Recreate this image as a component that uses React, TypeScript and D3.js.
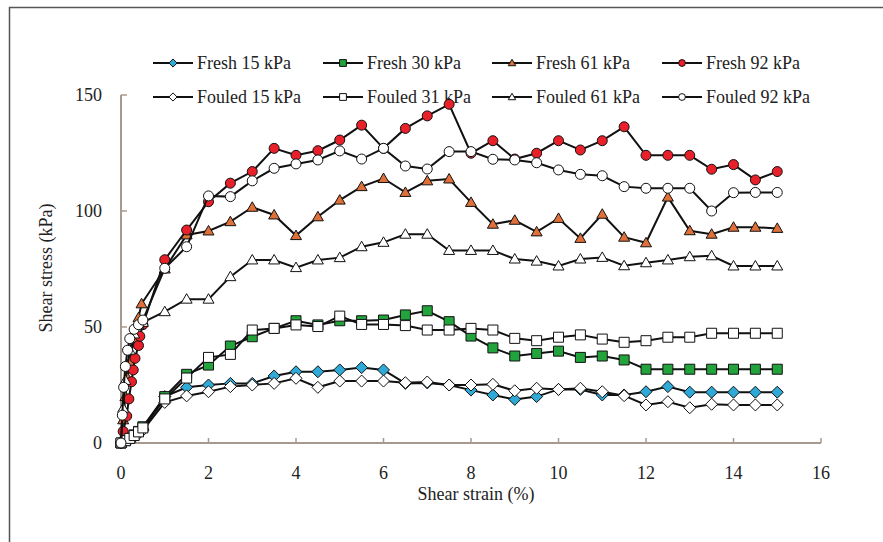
import * as d3 from 'd3'

// shared strain steps after the initial ramp (%)
const strain = [1, 1.5, 2, 2.5, 3, 3.5, 4, 4.5, 5, 5.5, 6, 6.5, 7, 7.5, 8, 8.5, 9, 9.5, 10, 10.5, 11, 11.5, 12, 12.5, 13, 13.5, 14, 14.5, 15]

// initial ramp (strain < 1 %)
const rampLow = [0, 0.1, 0.2, 0.3, 0.4, 0.5]
const fresh15Ramp = [0, 0.8, 1.8, 3, 4.5, 6]
const fouled15Ramp = [0, 0.6, 1.5, 2.6, 4, 5.5]
const fresh30Ramp = [0, 1, 2, 3.5, 5, 7]
const fouled31Ramp = [0, 1, 2, 3.2, 4.8, 6.5]
const fresh61RampX = [0, 0.05, 0.1, 0.15, 0.2, 0.3, 0.4, 0.47]
const fresh61Ramp = [0, 10, 20, 28, 35, 45, 54, 60]
const fouled61RampX = [0, 0.05, 0.1, 0.2, 0.3, 0.4, 0.5]
const fouled61Ramp = [0, 15, 27, 40, 47, 51, 52]
const fresh92RampX = [0, 0.05, 0.13, 0.18, 0.24, 0.28, 0.32, 0.4, 0.43, 0.5]
const fresh92Ramp = [0, 5, 11.6, 19, 26.4, 31.5, 36.5, 42, 46, 51]
const fouled92RampX = [0, 0.03, 0.06, 0.1, 0.15, 0.2, 0.3, 0.4, 0.5]
const fouled92Ramp = [0, 12, 24, 33, 40, 45, 49, 51, 53]

// shear stress (kPa) at each value of `strain`
const fresh15 = [20, 24, 25, 25.7, 25.7, 28.9, 30.7, 30.7, 31.5, 32.5, 31.5, 25.7, 25.9, 25, 22.8, 20.7, 18.8, 20, 23.1, 23.1, 20.7, 20.7, 22.1, 24.3, 21.9, 21.9, 21.9, 21.9, 21.9]
const fresh30 = [20, 29.6, 33.6, 41.8, 45.8, 49.4, 52.7, 50.9, 52.7, 52.7, 53, 55.2, 57, 52.3, 46.1, 41, 37.5, 38.6, 39.6, 36.9, 37.5, 35.8, 31.8, 31.8, 31.8, 31.8, 31.8, 31.8, 31.8]
const fresh61 = [75, 89.7, 91.4, 95.4, 101.6, 98.3, 89.4, 97.5, 104.7, 110.5, 114, 108, 113, 113.8, 103.7, 94.3, 96, 91, 96.8, 88.2, 98.6, 88.7, 86.3, 106, 91.5, 90, 93, 93, 92.5]
const fresh92 = [79, 91.8, 104, 112, 117, 127, 124, 126, 130.6, 137, 127, 135.6, 141, 146, 124.9, 130.3, 122.4, 124.9, 130.3, 126.3, 130.3, 136.3, 124, 124, 124, 118, 120, 113.4, 117]
const fouled15 = [17.5, 20.3, 22.1, 24.3, 25, 25.7, 27.9, 24, 26.7, 26.7, 26.7, 26, 26.3, 25, 25, 25.3, 22.5, 23.6, 23.1, 23.6, 22.1, 20.4, 16.4, 17.8, 15.2, 16.7, 16.4, 16.4, 16.4]
const fouled31 = [19, 28, 36.9, 38.2, 48.7, 49.4, 50.9, 50.2, 54.7, 51.1, 51.1, 50.6, 48.7, 48.7, 49.4, 48.7, 45.1, 44.1, 45.6, 46.6, 44.8, 43.4, 44.1, 45.6, 45.6, 47.3, 47.3, 47.3, 47.3]
const fouled61 = [56.6, 62, 62, 71.7, 78.9, 78.9, 75.6, 78.9, 79.9, 84.6, 86.5, 90, 90, 83, 83, 83, 79.3, 78.4, 76.3, 79.3, 80, 76.4, 77.7, 78.9, 80.3, 80.7, 76.3, 76.3, 76.3]
const fouled92 = [75.3, 84.6, 106.5, 106.2, 113, 118.4, 120.3, 122, 125.9, 122.4, 127, 119.4, 118.1, 125.6, 125.6, 122.3, 122, 120.8, 117.7, 115.8, 115.2, 110.5, 109.8, 109.8, 109.8, 100, 107.9, 108, 108]

const xTicks = [0, 2, 4, 6, 8, 10, 12, 14, 16]
const yTicks = [0, 50, 100, 150]

type Shape = 'diamond' | 'square' | 'triangle' | 'circle'
type Series = { name: string; shape: Shape; fill: string; rampX: number[]; ramp: number[]; values: number[] }

const series: Series[] = [
  { name: 'Fresh 15 kPa', shape: 'diamond', fill: '#2fa9d6', rampX: rampLow, ramp: fresh15Ramp, values: fresh15 },
  { name: 'Fresh 30 kPa', shape: 'square', fill: '#23a33c', rampX: rampLow, ramp: fresh30Ramp, values: fresh30 },
  { name: 'Fresh 61 kPa', shape: 'triangle', fill: '#e0703a', rampX: fresh61RampX, ramp: fresh61Ramp, values: fresh61 },
  { name: 'Fresh 92 kPa', shape: 'circle', fill: '#e8202a', rampX: fresh92RampX, ramp: fresh92Ramp, values: fresh92 },
  { name: 'Fouled 15 kPa', shape: 'diamond', fill: '#fff', rampX: rampLow, ramp: fouled15Ramp, values: fouled15 },
  { name: 'Fouled 31 kPa', shape: 'square', fill: '#fff', rampX: rampLow, ramp: fouled31Ramp, values: fouled31 },
  { name: 'Fouled 61 kPa', shape: 'triangle', fill: '#fff', rampX: fouled61RampX, ramp: fouled61Ramp, values: fouled61 },
  { name: 'Fouled 92 kPa', shape: 'circle', fill: '#fff', rampX: fouled92RampX, ramp: fouled92Ramp, values: fouled92 },
]

const W = 883
const H = 542
const margin = { left: 121, right: 62, top: 95, bottom: 99 }
const font = "'Liberation Serif', 'DejaVu Serif', serif"
const axisColor = '#a8998f'

function markerPath(shape: Shape, s: number) {
  if (shape === 'diamond') return `M0,${-1.2 * s}L${1.2 * s},0L0,${1.2 * s}L${-1.2 * s},0Z`
  if (shape === 'square') return `M${-s},${-s}H${s}V${s}H${-s}Z`
  if (shape === 'triangle') return `M0,${-1.1 * s}L${1.1 * s},${0.8 * s}L${-1.1 * s},${0.8 * s}Z`
  return d3.arc()({ innerRadius: 0, outerRadius: s, startAngle: 0, endAngle: 2 * Math.PI }) as string
}

export default function App() {
  const x = d3.scaleLinear().domain([0, 16]).range([margin.left, W - margin.right])
  const y = d3.scaleLinear().domain([0, 150]).range([H - margin.bottom, margin.top])
  const line = d3.line<[number, number]>().x(d => x(d[0])).y(d => y(d[1]))

  const legendCols = [153, 323, 492, 662]
  const legendRows = [63, 97]

  return (
    <svg width={W} height={H} style={{ position: 'absolute', left: 0, top: 0, background: '#fff' }}>
      <rect x={9.5} y={7.5} width={W + 10} height={H + 10} fill="#fff" stroke="#555" strokeWidth={1.5} />

      {/* legend (under the data, as in the original) */}
      {series.map((s, i) => {
        const lx = legendCols[i % 4]
        const ly = legendRows[Math.floor(i / 4)]
        return (
          <g key={'lg' + s.name}>
            <line x1={lx} x2={lx + 40} y1={ly} y2={ly} stroke="#111" strokeWidth={2} />
            <path d={markerPath(s.shape, 3.4)} transform={`translate(${lx + 20},${ly})`} fill={s.fill} stroke="#111" strokeWidth={1} />
            <text x={lx + 44} y={ly} dy="0.35em" fontFamily={font} fontSize={18} fill="#222">{s.name}</text>
          </g>
        )
      })}

      {/* axes */}
      <line x1={x(0)} x2={x(16)} y1={y(0)} y2={y(0)} stroke={axisColor} strokeWidth={2} />
      <line x1={x(0)} x2={x(0)} y1={y(0)} y2={y(150)} stroke={axisColor} strokeWidth={2} />
      {xTicks.map(t => (
        <g key={'x' + t}>
          <line x1={x(t)} x2={x(t)} y1={y(0)} y2={y(0) - 5} stroke={axisColor} strokeWidth={1.5} />
          <text x={x(t)} y={y(0) + 36} textAnchor="middle" fontFamily={font} fontSize={18} fill="#222">{t}</text>
        </g>
      ))}
      {yTicks.map(t => (
        <g key={'y' + t}>
          <line x1={x(0)} x2={x(0) + 6} y1={y(t)} y2={y(t)} stroke={axisColor} strokeWidth={1.5} />
          <text x={102} y={y(t)} dy="0.35em" textAnchor="end" fontFamily={font} fontSize={18} fill="#222">{t}</text>
        </g>
      ))}
      <text x={476} y={500} textAnchor="middle" fontFamily={font} fontSize={18} fill="#222">Shear strain (%)</text>
      <text transform="translate(52,268) rotate(-90)" textAnchor="middle" fontFamily={font} fontSize={18} fill="#222">Shear stress (kPa)</text>

      {/* series */}
      {series.map(s => {
        const pts: [number, number][] = [
          ...s.rampX.map((v, i) => [v, s.ramp[i]] as [number, number]),
          ...strain.map((v, i) => [v, s.values[i]] as [number, number]),
        ]
        return (
          <g key={s.name}>
            <path d={line(pts) as string} fill="none" stroke="#111" strokeWidth={2} />
            {pts.map((p, i) => (
              <path key={i} d={markerPath(s.shape, 5)} transform={`translate(${x(p[0])},${y(p[1])})`} fill={s.fill} stroke="#111" strokeWidth={1} />
            ))}
          </g>
        )
      })}
    </svg>
  )
}
